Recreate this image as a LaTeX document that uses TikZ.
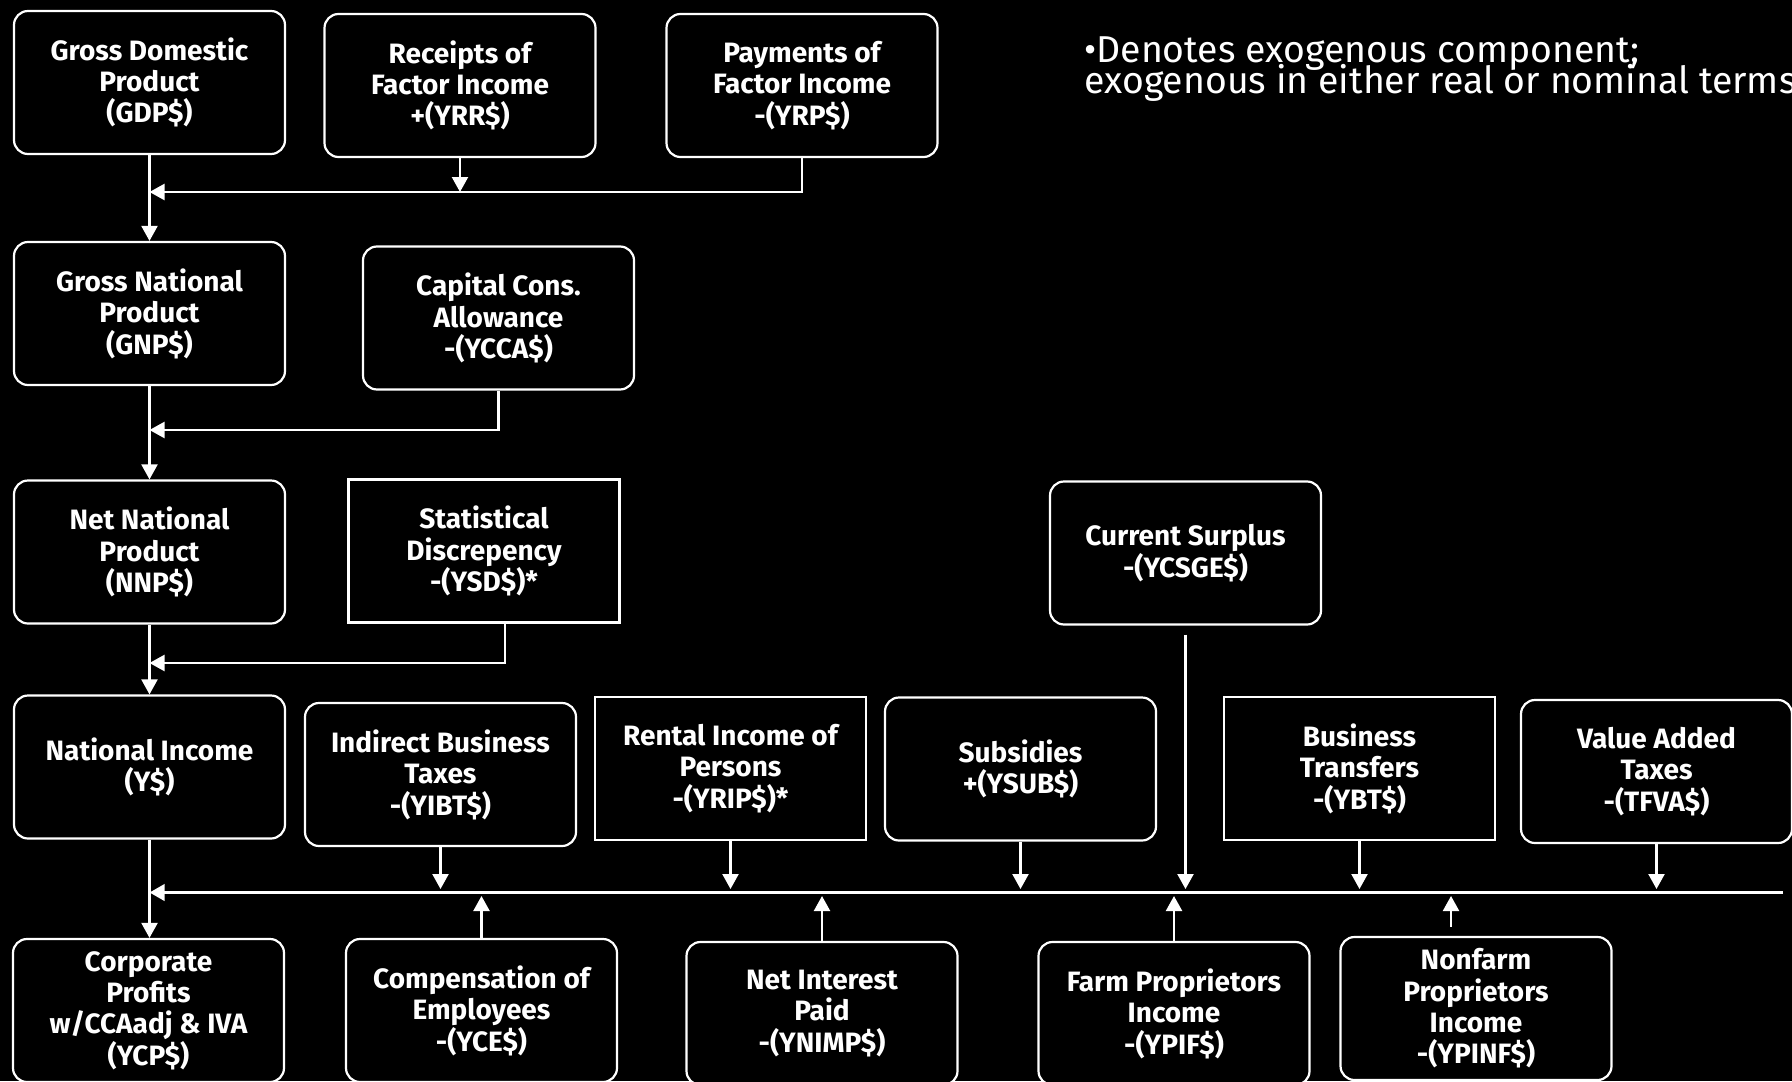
\documentclass[tikz,border=0pt]{standalone}
\usepackage{fontspec}
\setmainfont{Fira Sans}
\usetikzlibrary{arrows.meta}

% tight two-line legend text
\newcommand\legendtextfont{\fontsize{18.7}{15.5}\selectfont
  \lineskiplimit=-20pt\relax\lineskip=0pt\relax}

\tikzset{
  box/.style={draw=white, line width=1.1pt, fill=black, text=white, align=center,
    minimum width=135.5pt, minimum height=71.5pt, inner sep=0pt,
    font=\bfseries\fontsize{14}{15.7}\selectfont},
  rbox/.style={box, rounded corners=7pt},
  sbox/.style={box},
  conn/.style={draw=white, line width=1.1pt, -{Triangle[width=8pt,length=7.5pt]}},
  busline/.style={draw=white, line width=1.8pt, -{Triangle[width=8pt,length=7.5pt]}},
  note/.style={text=white, align=left, inner sep=0pt, font=\legendtextfont}
}

\begin{document}
\begin{tikzpicture}[x=0.5pt,y=-0.5pt]
  % page and background
  \fill[black] (0,0) rectangle (1792,1081);
  \clip (0,0) rectangle (1792,1081);

  % main chain on the left
  \node[rbox] (gdp) at (149.5,82.5)  {Gross Domestic\\Product\\(GDP\$)};
  \node[rbox] (gnp) at (149.5,313.5) {Gross National\\Product\\(GNP\$)};
  \node[rbox] (nnp) at (149.5,552)   {Net National\\Product\\(NNP\$)};
  \node[rbox] (ni)  at (149.5,767)   {National Income\\(Y\$)};
  \node[rbox] (cp)  at (148.5,1010.5){Corporate\\Profits\\w/CCAadj \& IVA\\(YCP\$)};

  % adjustments
  \node[rbox] (rcpt) at (460,85.5)  {Receipts of\\Factor Income\\+(YRR\$)};
  \node[rbox] (pay)  at (802,85.5)  {Payments of\\Factor Income\\-(YRP\$)};
  \node[rbox] (cca)  at (498.5,318) {Capital Cons.\\Allowance\\-(YCCA\$)};
  \node[sbox] (sd)   at (484,551)   {Statistical\\Discrepency\\-(YSD\$)*};

  % items entering the income bus from above
  \node[rbox] (ibt) at (440.5,774.5)  {Indirect Business\\Taxes\\-(YIBT\$)};
  \node[sbox] (rip) at (730.5,768.5)  {Rental Income of\\Persons\\-(YRIP\$)*};
  \node[rbox] (sub) at (1020.5,769)   {Subsidies\\+(YSUB\$)};
  \node[rbox] (cs)  at (1185.5,553)   {Current Surplus\\-(YCSGE\$)};
  \node[sbox] (bt)  at (1359.5,768.5) {Business\\Transfers\\-(YBT\$)};
  \node[rbox] (vat) at (1656.5,771.5) {Value Added\\Taxes\\-(TFVA\$)};

  % items entering the income bus from below
  \node[rbox] (ce)  at (481.5,1010.5) {Compensation of\\Employees\\-(YCE\$)};
  \node[rbox] (nip) at (822,1013.5)   {Net Interest\\Paid\\-(YNIMP\$)};
  \node[rbox] (pif) at (1174,1013.5)  {Farm Proprietors\\Income\\-(YPIF\$)};
  \node[rbox] (pnf) at (1476,1008.5)  {Nonfarm\\Proprietors\\Income\\-(YPINF\$)};

  % legend
  \node[note, anchor=north west] (legend) at (1084,36)
    {•Denotes exogenous component;\\exogenous in either real or nominal terms};

  % junction points
  \coordinate (j1) at (149.5,192);
  \coordinate (j2) at (149.5,430);
  \coordinate (j3) at (149.5,663);
  \coordinate (busL) at (149.5,892.5);
  \coordinate (busR) at (1783,892.5);
  \coordinate (busT) at (0,889);
  \coordinate (busB) at (0,896);

  % chain arrows
  \draw[conn] (gdp) -- (gnp);
  \draw[conn] (gnp) -- (nnp);
  \draw[conn] (nnp) -- (ni);
  \draw[conn] (ni.south) -- (ni.south |- cp.north);

  % adjustment feeds
  \draw[conn] (rcpt.south) -- (rcpt.south |- j1);
  \draw[conn] (pay.south) |- (j1);
  \draw[conn] (cca.south) |- (j2);
  \draw[conn] ([xshift=10.5pt]sd.south) |- (j3);

  % income bus
  \draw[busline] (busR) -- (busL);

  % feeds from above
  \draw[conn] (ibt.south) -- (ibt.south |- busT);
  \draw[conn] (rip.south) -- (rip.south |- busT);
  \draw[conn] (sub.south) -- (sub.south |- busT);
  \draw[conn] ([yshift=-4.5pt]cs.south) -- (cs.south |- busT);
  \draw[conn] (bt.south) -- (bt.south |- busT);
  \draw[conn] (vat.south) -- (vat.south |- busT);

  % feeds from below
  \draw[conn] (ce.north) -- (ce.north |- busB);
  \draw[conn] (nip.north) -- (nip.north |- busB);
  \draw[conn] (pif.north) -- (pif.north |- busB);
  \coordinate (pnfa) at ([xshift=-12.5pt,yshift=4.5pt]pnf.north);
  \draw[conn] (pnfa) -- (pnfa |- busB);
\end{tikzpicture}
\end{document}
